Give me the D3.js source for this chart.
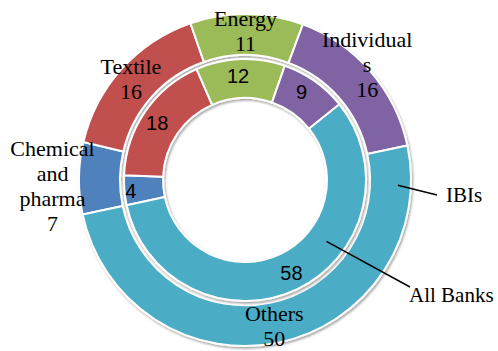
<!DOCTYPE html>
<html>
<head>
<meta charset="utf-8">
<script src="https://cdn.jsdelivr.net/npm/d3@7"></script>
<style>
  body { margin: 0; background: #fff; }
  .serif { font-family: "Liberation Serif", "DejaVu Serif", serif; font-size: 22px; fill: #000; }
  .num { font-family: "Liberation Sans", Arial, sans-serif; font-size: 20px; fill: #000; }
</style>
</head>
<body>
<div id="chart"></div>
<script>
// data
const categories = ["Chemical and pharma", "Textile", "Energy", "Individuals", "Others"];
const ibis = [7, 16, 11, 16, 50];        // outer ring
const allBanks = [4, 18, 12, 9, 58];     // inner ring
const colors = ["#4F81BD", "#C0504D", "#9BBB59", "#8064A2", "#4BACC6"];
// outer label lines (wrapped as in the picture)
const outerLines = [["Chemical", "and", "pharma"], ["Textile"], ["Energy"], ["Individual", "s"], ["Others"]];

const width = 498, height = 351;
const cx = 245, cy = 180;
const holeR = 82, innerR = 121, outerIn = 125, outerR = 166;
const start = -102 * Math.PI / 180;

const svg = d3.select("#chart").append("svg")
  .attr("width", width).attr("height", height);

const defs = svg.append("defs");
const f = defs.append("filter").attr("id", "shadow")
  .attr("x", "-10%").attr("y", "-10%").attr("width", "120%").attr("height", "120%");
f.append("feDropShadow").attr("dx", 1.2).attr("dy", 1.8)
  .attr("stdDeviation", 1).attr("flood-color", "#000").attr("flood-opacity", 0.35);

const pie = d3.pie().sort(null).startAngle(start).endAngle(start + 2 * Math.PI);
const arcInner = d3.arc().innerRadius(holeR).outerRadius(innerR);
const arcOuter = d3.arc().innerRadius(outerIn).outerRadius(outerR);

const g = svg.append("g").attr("transform", `translate(${cx},${cy})`);

// 外側リング (IBIs)
g.append("g").attr("filter", "url(#shadow)")
  .selectAll("path").data(pie(ibis)).join("path")
  .attr("d", arcOuter)
  .attr("fill", (d, i) => colors[i])
  .attr("stroke", "#fff").attr("stroke-width", 2);

// 内側リング (All Banks)
g.append("g").attr("filter", "url(#shadow)")
  .selectAll("path").data(pie(allBanks)).join("path")
  .attr("d", arcInner)
  .attr("fill", (d, i) => colors[i])
  .attr("stroke", "#fff").attr("stroke-width", 2);

// inner numbers at centroids
const innerNudge = [[-13, 2], [-4, 0], [-3, -3], [-2, -5], [3, 1]];
g.selectAll("text.num").data(pie(allBanks)).join("text")
  .attr("class", "num")
  .attr("text-anchor", "middle")
  .attr("dy", "0.35em")
  .attr("x", (d, i) => arcInner.centroid(d)[0] + innerNudge[i][0])
  .attr("y", (d, i) => arcInner.centroid(d)[1] + innerNudge[i][1])
  .text(d => d.data);

// outer labels (name + value)
const outerNudge = [[-47, 7], [-6, -4], [-1, -4], [12, -21], [-1, 3]];
const lineH = 25;
pie(ibis).forEach((d, i) => {
  const c = arcOuter.centroid(d);
  const lines = outerLines[i].concat([String(d.data)]);
  const x = c[0] + outerNudge[i][0];
  const y0 = c[1] + outerNudge[i][1] - (lines.length - 1) * lineH / 2;
  const t = g.append("text").attr("class", "serif").attr("text-anchor", "middle");
  lines.forEach((s, k) => {
    t.append("tspan").attr("x", x).attr("y", y0 + k * lineH).attr("dy", "0.35em").text(s);
  });
});

// series name callouts
const callouts = [
  { name: "IBIs", angle: 92, r: 153, end: [192, 15] },
  { name: "All Banks", angle: 127, r: 102, end: [165, 107] }
];
callouts.forEach(c => {
  const a = c.angle * Math.PI / 180;
  const x1 = c.r * Math.sin(a), y1 = -c.r * Math.cos(a);
  g.append("line")
    .attr("x1", x1).attr("y1", y1)
    .attr("x2", c.end[0]).attr("y2", c.end[1])
    .attr("stroke", "#000").attr("stroke-width", 1.5);
  g.append("text").attr("class", "serif")
    .style("font-size", "21px")
    .attr("x", c.end[0] + (c.name === "IBIs" ? 9 : -1))
    .attr("y", c.end[1] + (c.name === "IBIs" ? 0 : 8))
    .attr("dy", "0.35em")
    .text(c.name);
});
</script>
</body>
</html>
